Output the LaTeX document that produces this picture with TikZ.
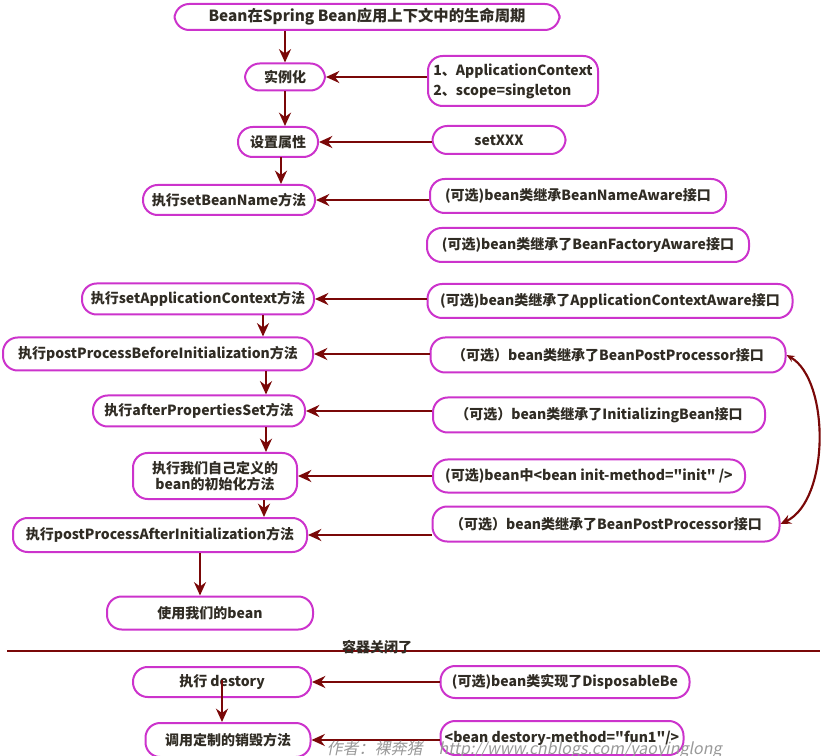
\documentclass[tikz,border=0pt]{standalone}
\usepackage{fontspec}
\setmainfont{Noto Sans CJK SC}
\newfontfamily\quotefont{Noto Sans CJK SC}
\newcommand\qmark{{\quotefont"}}
\usetikzlibrary{arrows.meta}
\definecolor{boxpink}{RGB}{204,51,204}
\definecolor{flowred}{RGB}{122,8,8}
\definecolor{txt}{RGB}{48,44,36}

\begin{document}
\begin{tikzpicture}[x=0.75pt,y=0.75pt,yscale=-1,xscale=1,
    stage/.style 2 args={draw=boxpink,line width=1.5pt,rounded corners=11pt,fill=white,text=txt,
        minimum width=#1*0.75pt,minimum height=#2*0.75pt,inner sep=0pt,
        font=\fontsize{10.5}{13}\selectfont\bfseries},
    flow/.style={draw=flowred,line width=1.6pt,-{Stealth[length=10pt,width=9pt]}}]
    \useasboundingbox (0,0) rectangle (826,756);

    % left column
    \node[stage={385}{26},font=\fontsize{11.5}{13}\selectfont\bfseries] (title) at (367,17) {Bean在Spring Bean应用上下文中的生命周期};
    \node[stage={80}{27}] (inst) at (285,77) {实例化};
    \node[stage={80}{30}] (props) at (278,142) {设置属性};
    \node[stage={172}{30}] (name) at (229,200) {执行setBeanName方法};
    \node[stage={232}{31}] (appctx) at (198,299) {执行setApplicationContext方法};
    \node[stage={310}{33}] (before) at (158,354) {执行postProcessBeforeInitialization方法};
    \node[stage={212}{31}] (afterprops) at (199,411) {执行afterPropertiesSet方法};
    \node[stage={164}{46},align=center,font=\fontsize{10.5}{12.5}\selectfont\bfseries] (initm) at (215,476) {执行我们自己定义的\\bean的初始化方法};
    \node[stage={294}{34}] (after) at (160,535) {执行postProcessAfterInitialization方法};
    \node[stage={206}{33}] (use) at (210,613) {使用我们的bean};
    \node[stage={178}{30}] (destory) at (222,682) {执行 destory};
    \node[stage={165}{34}] (custom) at (228,740) {调用定制的销毁方法};

    % right column
    \node[stage={170}{50},align=left,font=\fontsize{10.5}{15}\selectfont\bfseries] (ctx) at (513,81) {1、ApplicationContext\\2、scope=singleton};
    \node[stage={133}{28}] (setx) at (499,140) {setXXX};
    \node[stage={296}{34}] (nameaware) at (578,196) {(可选)bean类继承BeanNameAware接口};
    \node[stage={322}{34}] (factory) at (588,245) {(可选)bean类继承了BeanFactoryAware接口};
    \node[stage={365}{34}] (appctxaware) at (610,301) {(可选)bean类继承了ApplicationContextAware接口};
    \node[stage={355}{35}] (bppA) at (608,355) {（可选）bean类继承了BeanPostProcessor接口};
    \node[stage={332}{35}] (initbean) at (599,415) {（可选）bean类继承了InitializingBean接口};
    \node[stage={312}{33}] (initaware) at (589,476) {(可选)bean中<bean init-method=\qmark init\qmark\ />};
    \node[stage={347}{35}] (bppB) at (606,524) {（可选）bean类继承了BeanPostProcessor接口};
    \node[stage={249}{32}] (disp) at (565,682) {(可选)bean类实现了DisposableBe};
    \node[stage={243}{34}] (dm) at (562,738) {<bean destory-method=\qmark fun1\qmark/>};

    % vertical flow
    \draw[flow] (inst |- title.south) -- (inst.north);
    \draw[flow] (inst.south) -- (inst.south |- props.north);
    \draw[flow] (281,157) -- (name.north -| 281,0);
    \draw[flow] (appctx.south -| 263,0) -- (before.north -| 263,0);
    \draw[flow] (before.south -| 266,0) -- (afterprops.north -| 266,0);
    \draw[flow] (afterprops.south -| 266,0) -- (initm.north -| 266,0);
    \draw[flow] (initm.south -| 264,0) -- (after.north -| 264,0);
    \draw[flow] (after.south -| 200,0) -- (use.north -| 200,0);
    \draw[flow] (222,680) -- (custom.north -| 222,0);

    % horizontal flow
    \draw[flow] (ctx.west |- inst) -- (inst.east);
    \draw[flow] (setx.west |- props) -- (props.east);
    \draw[flow] (nameaware.west |- name) -- (name.east);
    \draw[flow] (appctxaware.west |- appctx) -- (appctx.east);
    \draw[flow] (bppA.west |- before) -- (before.east);
    \draw[flow] (initbean.west |- afterprops) -- (afterprops.east);
    \draw[flow] (initaware.west |- initm) -- (initm.east);
    \draw[flow] (bppB.west |- after) -- (after.east);
    \draw[flow] (disp.west |- destory) -- (destory.east);
    \draw[flow] (dm.west |- custom) -- (custom.east);

    % BeanPostProcessor link
    \draw[flow,{Stealth[length=6pt,width=5pt]}-{Stealth[length=8pt,width=7pt]}] (bppA.east) .. controls (830,380) and (830,500) .. (bppB.east);

    % container closed
    \draw[flowred,line width=1.6pt] (7,651) -- (820,651);
    \node[text=txt,font=\fontsize{10.5}{13}\selectfont\bfseries] (closed) at (377,647) {容器关闭了};

    % watermark
    \node[anchor=base west,text=black!40,font=\fontsize{12}{14}\selectfont\addfontfeature{FakeSlant=0.2}] (mark) at (322,754) {作者：裸奔猪\quad http://www.cnblogs.com/yaoyinglong};
\end{tikzpicture}
\end{document}
